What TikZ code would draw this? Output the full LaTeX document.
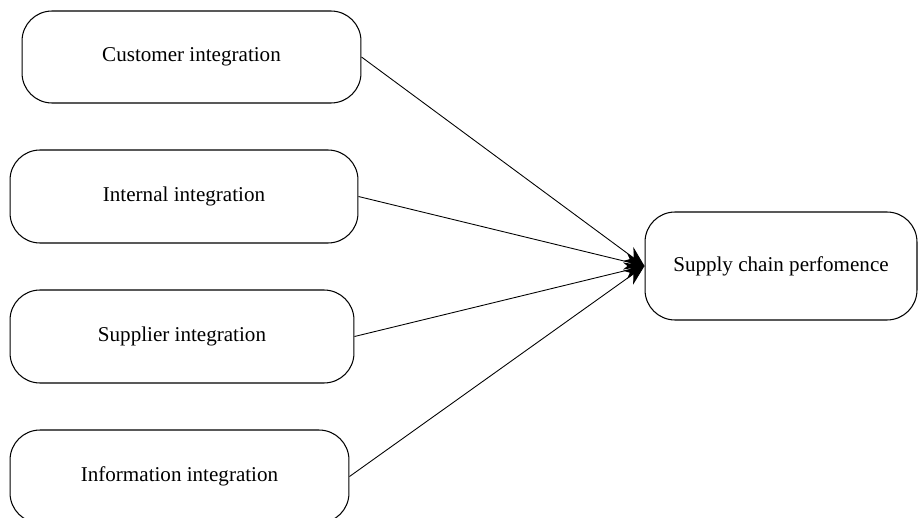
\documentclass[tikz,border=0pt]{standalone}
\usepackage{fontspec}
\setmainfont{Liberation Serif}
\usetikzlibrary{arrows.meta}

\tikzset{
	factor/.style={draw, rounded corners=0.6cm, line width=0.6pt, align=center, font=\fontsize{12}{14}\selectfont, inner sep=0pt},
	link/.style={line width=0.5pt, -{Stealth[length=0.4cm,width=0.34cm]}}
}

\begin{document}
\begin{tikzpicture}[x=0.02cm,y=-0.02cm]
	
	% frame of the page
	\useasboundingbox (0,0) rectangle (919,517);
	
	%------------------------------
	% Integration factors
	%------------------------------
	\node[factor, minimum width=6.78cm, minimum height=1.84cm] (cust) at (191.5,57) {Customer integration};
	\node[factor, minimum width=6.96cm, minimum height=1.86cm] (intl) at (184,196.5) {Internal integration};
	\node[factor, minimum width=6.88cm, minimum height=1.86cm] (supl) at (182,336.5) {Supplier integration};
	\node[factor, minimum width=6.78cm, minimum height=1.86cm] (info) at (179.5,476.5) {Information integration};
	
	%------------------------------
	% Outcome
	%------------------------------
	\node[factor, minimum width=5.44cm, minimum height=2.16cm] (perf) at (781,266) {Supply chain perfomence};
	
	% Links to the outcome
	\draw[link] (cust.east) -- (perf.west);
	\draw[link] (intl.east) -- (perf.west);
	\draw[link] (supl.east) -- (perf.west);
	\draw[link] (info.east) -- (perf.west);
	
\end{tikzpicture}
\end{document}
